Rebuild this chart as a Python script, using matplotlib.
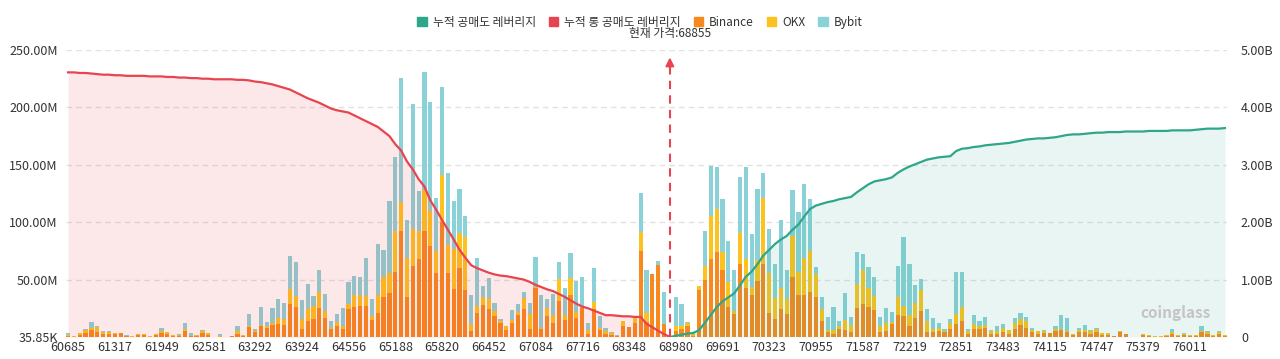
import numpy as np
import matplotlib
matplotlib.use("Agg")
import matplotlib.pyplot as plt
from matplotlib.patches import Patch
from matplotlib.transforms import blended_transform_factory

plt.rcParams['font.family'] = ['Noto Sans CJK KR', 'DejaVu Sans']

# liquidation leverage per price level, in millions USD (Binance / OKX / Bybit)
binance = [
    1.2, 0.3, 1.5, 3.8, 6.0, 4.4, 3.0, 3.0, 3.0, 3.3,
    0.5, 0.2, 2.0, 1.8, 0.4, 1.8, 3.2, 3.0, 1.0, 1.2,
    5.5, 0.5, 1.0, 3.5, 2.2, 0.1, 0.3, 0.1, 0.5, 2.5,
    1.0, 8.7, 4.0, 9.6, 8.0, 10.5, 11.0, 10.5, 29.0, 26.0,
    6.7, 14.0, 15.4, 25.0, 16.6, 6.7, 9.6, 6.7, 24.0, 26.0,
    27.0, 27.0, 14.5, 21.0, 35.0, 38.7, 57.0, 92.0, 35.0, 62.0,
    68.0, 92.0, 79.0, 56.0, 100.0, 55.5, 41.5, 60.0, 40.7, 5.0,
    20.6, 27.6, 24.0, 18.0, 12.5, 6.4, 12.5, 19.0, 24.0, 7.3,
    43.0, 6.7, 18.0, 12.5, 31.0, 15.0, 37.0, 17.0, 25.0, 3.0,
    24.0, 5.8, 3.0, 2.0, 0.8, 9.6, 8.7, 12.5, 75.0, 13.0,
    55.0, 62.5, 11.0, 0.0, 5.0, 7.0, 9.6, 1.0, 41.0, 50.0,
    68.0, 74.0, 58.0, 26.5, 20.0, 64.0, 43.0, 37.0, 49.0, 64.0,
    21.0, 16.0, 24.0, 20.0, 52.0, 37.0, 37.0, 39.0, 35.0, 14.0,
    4.0, 3.0, 7.0, 6.0, 4.4, 25.0, 28.5, 26.5, 23.5, 4.4,
    5.0, 11.0, 19.0, 18.0, 9.6, 17.0, 22.7, 4.4, 4.0, 5.0,
    4.0, 7.0, 11.0, 14.0, 3.0, 6.7, 7.0, 8.0, 3.0, 3.0,
    4.0, 3.0, 7.0, 10.5, 8.0, 4.0, 3.0, 3.5, 3.8, 5.0,
    6.0, 4.4, 1.5, 4.0, 4.0, 3.0, 4.4, 2.0, 2.0, 0.5,
    4.0, 2.3, 0.0, 0.0, 1.5, 1.0, 0.3, 0.3, 1.2, 3.0,
    1.2, 2.0, 1.2, 1.2, 4.4, 2.5, 1.2, 2.5, 1.0,
]
okx = [
    0.8, 0.5, 1.7, 2.0, 2.0, 4.6, 1.5, 1.5, 0.8, 0.5,
    0.5, 0.5, 0.6, 0.8, 0.5, 0.8, 2.0, 1.0, 0.6, 0.8,
    1.2, 0.5, 0.6, 1.5, 1.0, 0.05, 0.3, 0.1, 0.5, 2.5,
    0.5, 0.5, 1.2, 1.0, 2.0, 2.0, 6.0, 5.5, 12.5, 10.0,
    8.7, 10.0, 11.6, 14.0, 6.0, 1.5, 3.5, 3.0, 5.0, 11.0,
    9.6, 9.0, 4.0, 16.0, 17.5, 17.5, 35.7, 26.0, 34.0, 32.0,
    24.0, 36.0, 31.0, 19.0, 41.0, 25.0, 35.0, 31.0, 46.5, 6.5,
    6.4, 7.6, 9.0, 4.4, 1.7, 3.0, 2.0, 2.6, 10.0, 12.5,
    1.0, 1.2, 7.0, 6.4, 19.5, 4.0, 14.5, 4.4, 0.3, 3.0,
    6.4, 2.3, 2.0, 1.4, 0.4, 4.4, 0.0, 4.6, 16.6, 8.0,
    0.0, 0.0, 0.0, 0.0, 5.0, 2.5, 3.0, 1.3, 3.5, 12.0,
    37.0, 37.5, 16.0, 21.5, 3.0, 27.0, 25.0, 6.4, 18.0, 57.0,
    35.0, 18.0, 19.0, 13.0, 36.0, 20.0, 32.0, 36.0, 20.0, 10.0,
    2.3, 3.0, 3.0, 9.0, 5.8, 21.0, 30.0, 16.6, 12.0, 5.0,
    7.3, 2.0, 16.0, 9.3, 9.3, 12.5, 18.0, 9.6, 3.0, 3.0,
    1.0, 5.0, 8.7, 12.0, 2.0, 4.4, 3.0, 2.3, 2.5, 2.6,
    3.5, 3.0, 5.0, 5.0, 5.8, 2.0, 2.2, 1.5, 0.0, 1.6,
    1.0, 1.0, 0.8, 2.0, 2.3, 2.0, 2.3, 1.8, 1.8, 0.3,
    1.2, 0.0, 0.0, 0.0, 0.8, 0.5, 0.3, 0.3, 0.8, 1.7,
    0.8, 1.0, 0.8, 0.8, 1.0, 1.5, 0.8, 1.5, 0.5,
]
bybit = [
    1.2, 0.4, 0.0, 1.5, 5.0, 1.0, 0.5, 0.5, 0.0, 0.0,
    0.5, 0.5, 0.0, 0.0, 0.3, 0.0, 2.3, 0.6, 0.4, 0.3,
    5.3, 2.2, 0.4, 1.4, 0.0, 0.05, 1.7, 0.1, 0.2, 4.6,
    0.0, 11.0, 2.1, 15.6, 3.0, 12.5, 16.0, 14.0, 29.0, 29.0,
    17.0, 22.0, 9.0, 19.0, 15.0, 6.0, 7.0, 16.0, 19.0, 16.0,
    16.0, 33.0, 14.5, 44.0, 23.0, 62.0, 64.0, 108.0, 33.0, 109.0,
    35.0, 103.0, 95.0, 46.0, 77.0, 62.0, 42.0, 38.0, 18.0, 25.0,
    42.0, 9.3, 18.0, 7.6, 1.2, 0.2, 9.0, 7.4, 5.5, 10.0,
    26.0, 29.0, 8.0, 19.0, 15.0, 24.0, 22.0, 27.6, 27.0, 6.0,
    30.0, 10.0, 3.0, 1.0, 0.3, 0.0, 0.0, 0.0, 34.0, 37.0,
    0.0, 4.0, 28.0, 0.0, 25.0, 19.0, 0.4, 1.5, 0.0, 30.0,
    44.0, 37.0, 46.0, 36.0, 35.0, 48.0, 80.0, 46.0, 62.0, 22.0,
    38.0, 30.0, 59.0, 25.0, 40.0, 52.0, 64.0, 45.0, 6.4, 11.0,
    11.0, 20.0, 4.0, 23.0, 7.6, 28.0, 13.7, 18.0, 17.0, 8.0,
    13.0, 9.0, 27.0, 60.0, 45.0, 15.7, 10.0, 10.0, 10.0, 4.5,
    2.3, 4.0, 37.0, 31.0, 1.7, 8.0, 4.0, 7.3, 0.5, 4.0,
    3.5, 0.0, 4.4, 5.8, 3.5, 2.0, 0.0, 0.8, 0.0, 3.0,
    12.0, 11.6, 0.0, 2.0, 4.4, 1.0, 1.5, 0.0, 0.0, 0.2,
    0.0, 0.0, 0.3, 0.3, 0.0, 0.0, 0.3, 0.3, 0.0, 2.0,
    0.0, 0.8, 0.0, 0.0, 4.6, 1.2, 0.0, 1.2, 0.0,
]

# cumulative long leverage (billions), from the first price level up to the current price
long_cum = [
    4.61, 4.61, 4.60, 4.60, 4.59, 4.58, 4.57, 4.57, 4.56, 4.56,
    4.55, 4.55, 4.55, 4.55, 4.54, 4.54, 4.54, 4.53, 4.53, 4.52,
    4.52, 4.51, 4.51, 4.50, 4.50, 4.49, 4.49, 4.49, 4.49, 4.48,
    4.48, 4.47, 4.45, 4.44, 4.42, 4.40, 4.37, 4.34, 4.31, 4.26,
    4.21, 4.16, 4.12, 4.08, 4.03, 3.98, 3.95, 3.93, 3.91, 3.86,
    3.81, 3.76, 3.71, 3.66, 3.58, 3.50, 3.36, 3.25, 3.06, 2.92,
    2.75, 2.62, 2.38, 2.22, 2.04, 1.87, 1.70, 1.52, 1.38, 1.25,
    1.20, 1.16, 1.12, 1.09, 1.07, 1.06, 1.04, 1.02, 1.00, 0.96,
    0.91, 0.87, 0.83, 0.80, 0.75, 0.70, 0.64, 0.58, 0.53, 0.50,
    0.46, 0.42, 0.38, 0.38, 0.37, 0.36, 0.36, 0.35, 0.35, 0.23,
    0.17, 0.11, 0.05, 0.00,
]
# cumulative short leverage (billions), from the current price to the last price level
short_cum = [
    0.00, 0.02, 0.04, 0.06, 0.07, 0.12, 0.25,
    0.38, 0.52, 0.62, 0.69, 0.76, 0.90, 1.05, 1.14, 1.27, 1.42,
    1.52, 1.62, 1.70, 1.76, 1.87, 1.96, 2.10, 2.23, 2.29, 2.32,
    2.35, 2.37, 2.40, 2.42, 2.44, 2.52, 2.59, 2.66, 2.71, 2.73,
    2.75, 2.78, 2.86, 2.92, 2.97, 3.01, 3.05, 3.09, 3.11, 3.13,
    3.14, 3.15, 3.24, 3.28, 3.29, 3.31, 3.32, 3.34, 3.35, 3.36,
    3.37, 3.38, 3.40, 3.42, 3.44, 3.45, 3.46, 3.46, 3.47, 3.48,
    3.50, 3.52, 3.53, 3.53, 3.54, 3.55, 3.56, 3.56, 3.57, 3.57,
    3.57, 3.58, 3.58, 3.58, 3.58, 3.59, 3.59, 3.59, 3.59, 3.60,
    3.60, 3.60, 3.60, 3.61, 3.62, 3.63, 3.63, 3.63, 3.64,
]

price_labels = ['60685', '61317', '61949', '62581', '63292', '63924', '64556',
                '65188', '65820', '66452', '67084', '67716', '68348', '68980',
                '69691', '70323', '70955', '71587', '72219', '72851', '73483',
                '74115', '74747', '75379', '76011']
label_every = 8
current_price = 68855

left_ticks = [0.03585, 50, 100, 150, 200, 250]
left_labels = ['35.85K', '50.00M', '100.00M', '150.00M', '200.00M', '250.00M']
right_ticks = [0, 1, 2, 3, 4, 5]
right_labels = ['0', '1.00B', '2.00B', '3.00B', '4.00B', '5.00B']

C_BIN = '#f7891f'
C_OKX = '#fcc31e'
C_BYB = '#8ad2d7'
C_RED = '#e8444f'
C_GRN = '#2ea68a'
TXT = '#333333'

binance = np.array(binance)
okx = np.array(okx)
bybit = np.array(bybit)
n = len(binance)
x = np.arange(n)
x_long = np.arange(len(long_cum))
x_short = np.arange(len(short_cum)) + (n - len(short_cum))
cur_idx = len(long_cum) - 1

fig = plt.figure(figsize=(12.8, 3.59), dpi=100)
ax = fig.add_axes([66 / 1280, 1 - 337 / 359, (1227 - 66) / 1280, (337 - 50) / 359])

# stacked bars
ax.bar(x, binance, width=0.72, color=C_BIN, lw=0, zorder=2)
ax.bar(x, okx, bottom=binance, width=0.72, color=C_OKX, lw=0, zorder=2)
ax.bar(x, bybit, bottom=binance + okx, width=0.72, color=C_BYB, lw=0, zorder=2)

ax.set_xlim(-0.35, n - 0.65)
ax.set_ylim(left_ticks[0], left_ticks[-1])
ax.set_yticks(left_ticks)
ax.set_yticklabels(left_labels)
for yv in left_ticks[1:]:
    ax.axhline(yv, color='#e2e2e2', lw=1.0, ls=(0, (4, 3)), zorder=1)

tick_pos = x[::label_every][:len(price_labels)]
ax.set_xticks(tick_pos)
ax.set_xticklabels(price_labels)
ax.tick_params(axis='both', length=0, labelsize=9, colors=TXT)
ax.tick_params(axis='y', pad=6)
ax.tick_params(axis='x', pad=3)
for s in ax.spines.values():
    s.set_visible(False)

# cumulative lines on right axis
ax2 = ax.twinx()
ax2.fill_between(x_long, long_cum, 0, color=C_RED, alpha=0.12, lw=0, zorder=1)
ax2.fill_between(x_short, short_cum, 0, color=C_GRN, alpha=0.10, lw=0, zorder=1)
ax2.plot(x_long, long_cum, color=C_RED, lw=1.6, zorder=3)
ax2.plot(x_short, short_cum, color=C_GRN, lw=1.6, zorder=3)
ax2.set_ylim(right_ticks[0], right_ticks[-1])
ax2.set_yticks(right_ticks)
ax2.set_yticklabels(right_labels)
ax2.tick_params(axis='y', length=0, labelsize=9, colors=TXT, pad=10)
for s in ax2.spines.values():
    s.set_visible(False)

# current price marker
ax2.plot([cur_idx, cur_idx], [0, 4.70], color=C_RED, lw=1.5, ls=(0, (4, 3)), zorder=4)
ax2.annotate('', xy=(cur_idx, 4.92), xytext=(cur_idx, 4.68),
             arrowprops=dict(arrowstyle='-|>', color=C_RED, lw=1.5, mutation_scale=12),
             zorder=4)
trans = blended_transform_factory(ax2.transData, ax2.transAxes)
ax2.text(cur_idx, 1.056, '현재 가격:%d' % current_price, transform=trans,
         ha='center', va='center', fontsize=8.5, color=TXT)

# watermark
ax2.text(189.5, 0.42, 'coinglass', ha='center', va='center', fontsize=11,
         fontweight='bold', color='#c4c4c4', zorder=5)

handles = [Patch(color=C_GRN), Patch(color=C_RED), Patch(color=C_BIN),
           Patch(color=C_OKX), Patch(color=C_BYB)]
labels = ['누적 공매도 레버리지', '누적 롱 공매도 레버리지', 'Binance', 'OKX', 'Bybit']
fig.legend(handles, labels, loc='upper center', bbox_to_anchor=(0.5, 0.985),
           ncol=5, frameon=False, fontsize=8.5, handlelength=0.8, handleheight=0.8,
           handletextpad=0.5, columnspacing=1.1, labelcolor=TXT)

fig.savefig('out.png', dpi=100)
